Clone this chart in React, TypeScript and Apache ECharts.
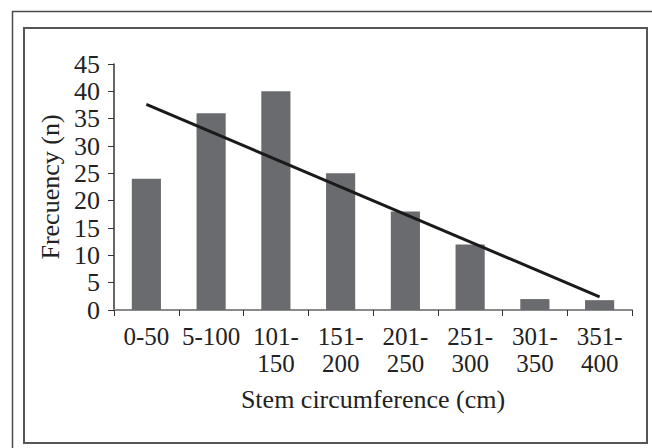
import React, { useEffect, useRef } from "react";
import * as echarts from "echarts";

const categories = ["0-50", "5-100", "101-\n150", "151-\n200", "201-\n250", "251-\n300", "301-\n350", "351-\n400"];
const frequency = [24, 36, 40, 25, 18, 12, 2, 1.8];
const trendLine = [37.6, null, null, null, null, null, null, 2.4];
const yTicks = { min: 0, max: 45, interval: 5 };
const xName = "Stem circumference (cm)";
const yName = "Frecuency (n)";

const FONT = "'Liberation Serif', 'DejaVu Serif', serif";
const TEXT = "#222222";

export default function App() {
  const ref = useRef<HTMLDivElement>(null);
  useEffect(() => {
    document.body.style.margin = "0";
    const chart = echarts.init(ref.current!, null, { renderer: "svg" });
    chart.setOption({
      animation: false,
      backgroundColor: "#ffffff",
      textStyle: { fontFamily: FONT, color: TEXT },
      graphic: [
        {
          type: "rect",
          shape: { x: 12.5, y: 11.5, width: 680, height: 480 },
          style: { fill: "none", stroke: "#4a4a4a", lineWidth: 1.5 },
          silent: true,
        },
        {
          type: "rect",
          shape: { x: 24, y: 28, width: 623, height: 415 },
          style: { fill: "none", stroke: "#555555", lineWidth: 2 },
          silent: true,
        },
      ],
      grid: { left: 114, right: 20, top: 64, bottom: 138, containLabel: false },
      xAxis: {
        type: "category",
        data: categories,
        boundaryGap: true,
        name: xName,
        nameLocation: "middle",
        nameGap: 76,
        nameTextStyle: { fontFamily: FONT, fontSize: 26, color: TEXT },
        axisLine: { show: true, lineStyle: { color: "#8a8a8a", width: 2 } },
        axisTick: { show: true, alignWithLabel: false, length: 6, lineStyle: { color: "#333333", width: 1 } },
        axisLabel: {
          interval: 0,
          margin: 13,
          fontFamily: FONT,
          fontSize: 25,
          lineHeight: 27,
          color: TEXT,
        },
        splitLine: { show: false },
      },
      yAxis: {
        type: "value",
        min: yTicks.min,
        max: yTicks.max,
        interval: yTicks.interval,
        name: yName,
        nameLocation: "middle",
        nameGap: 50,
        nameRotate: 90,
        nameTextStyle: { fontFamily: FONT, fontSize: 26, color: TEXT },
        axisLine: { show: true, lineStyle: { color: "#333333", width: 1.5 } },
        axisTick: { show: true, length: 6, lineStyle: { color: "#333333", width: 1 } },
        axisLabel: { margin: 14, fontFamily: FONT, fontSize: 26, color: TEXT },
        splitLine: { show: false },
      },
      series: [
        {
          type: "bar",
          data: frequency,
          barWidth: "45%",
          itemStyle: { color: "#6a6b6f" },
        },
        {
          type: "line",
          data: trendLine,
          connectNulls: true,
          symbol: "none",
          lineStyle: { color: "#1a1a1a", width: 3 },
          z: 5,
        },
      ],
    });
    return () => chart.dispose();
  }, []);
  return <div ref={ref} style={{ width: 652, height: 448 }} />;
}
